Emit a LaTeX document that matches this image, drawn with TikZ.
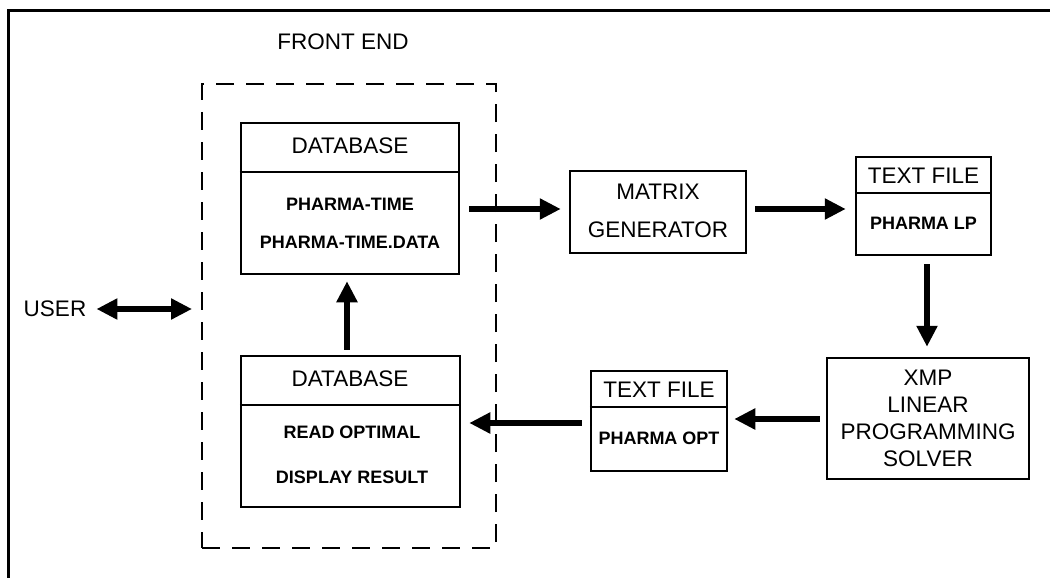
\documentclass[tikz,border=0pt]{standalone}
\usepackage{fontspec}
\setmainfont{Liberation Sans}
\usetikzlibrary{arrows.meta}
\tikzset{
  box/.style={draw, line width=2.5pt, inner sep=0pt},
  ttl/.style={font=\fontsize{22.5}{27}\selectfont, inner sep=0pt, align=center},
  body/.style={font=\fontsize{18}{22}\selectfont\bfseries, inner sep=0pt},
  divline/.style={line width=2.5pt},
  bigarrow/.style={line width=6pt, -{Triangle[width=20pt,length=21pt]}},
  dblarrow/.style={line width=6pt, {Triangle[width=20pt,length=21pt]}-{Triangle[width=20pt,length=21pt]}},
}
\begin{document}
\begin{tikzpicture}[x=1pt,y=-1pt]
\useasboundingbox (0,0) rectangle (1050,578);
% frame
\draw[line width=3pt] (8,578) -- (8,11) -- (1050,11);
% front end
\node[ttl] (fetitle) at (343,42) {FRONT END};
\node[draw, dashed, dash pattern=on 18pt off 12pt, line width=2pt, minimum width=294pt, minimum height=464pt, inner sep=0pt] (fe) at (349,316) {};
% top database
\node[box, minimum width=218pt, minimum height=151pt] (topdb) at (350,198.5) {};
\draw[divline] (topdb.west |- 0,172) -- (topdb.east |- 0,172);
\node[ttl] (topdbt) at (350,146) {DATABASE};
\node[body] (topdb1) at (350,204) {PHARMA-TIME};
\node[body] (topdb2) at (350,242) {PHARMA-TIME.DATA};
% bottom database
\node[box, minimum width=219pt, minimum height=151pt] (botdb) at (350.5,431.5) {};
\draw[divline] (botdb.west |- 0,405) -- (botdb.east |- 0,405);
\node[ttl] (botdbt) at (350,379) {DATABASE};
\node[body] (botdb1) at (352,432) {READ OPTIMAL};
\node[body] (botdb2) at (352,477) {DISPLAY RESULT};
% matrix generator
\node[box, minimum width=176pt, minimum height=82pt] (matrix) at (658,212) {};
\node[ttl] (matrixt) at (658,211) {MATRIX\\[11pt]GENERATOR};
% text file 1
\node[box, minimum width=135pt, minimum height=98pt] (tf1) at (923.5,206) {};
\draw[divline] (tf1.west |- 0,193) -- (tf1.east |- 0,193);
\node[ttl] (tf1t) at (923.5,176) {TEXT FILE};
\node[body] (tf1b) at (923.5,223) {PHARMA LP};
% solver
\node[box, minimum width=202pt, minimum height=121pt] (xmp) at (928,418.5) {};
\node[ttl] (xmpt) at (928,418.5) {XMP\\LINEAR\\PROGRAMMING\\SOLVER};
% text file 2
\node[box, minimum width=136pt, minimum height=100pt] (tf2) at (659,421) {};
\draw[divline] (tf2.west |- 0,407) -- (tf2.east |- 0,407);
\node[ttl] (tf2t) at (659,390) {TEXT FILE};
\node[body] (tf2b) at (659,438) {PHARMA OPT};
% user
\node[ttl] (user) at (55,309) {USER};
% connectors
\draw[bigarrow, shorten <=9pt, shorten >=8pt] (topdb.east |- 0,209) -- (matrix.west |- 0,209);
\draw[bigarrow, shorten <=8pt, shorten >=9pt] (matrix.east |- 0,209) -- (tf1.west |- 0,209);
\draw[bigarrow, shorten <=8pt, shorten >=10pt] (tf1.south -| 927,0) -- (xmp.north -| 927,0);
\draw[bigarrow, shorten <=6pt, shorten >=6pt] (xmp.west |- 0,419) -- (tf2.east |- 0,419);
\draw[bigarrow, shorten <=8pt, shorten >=8pt] (tf2.west |- 0,423) -- (botdb.east |- 0,423);
\draw[bigarrow, shorten <=5pt, shorten >=6pt] (botdb.north -| 347,0) -- (topdb.south -| 347,0);
\draw[dblarrow, shorten <=10pt, shorten >=9pt] (user.east) -- (fe.west |- user.east);
\end{tikzpicture}
\end{document}
